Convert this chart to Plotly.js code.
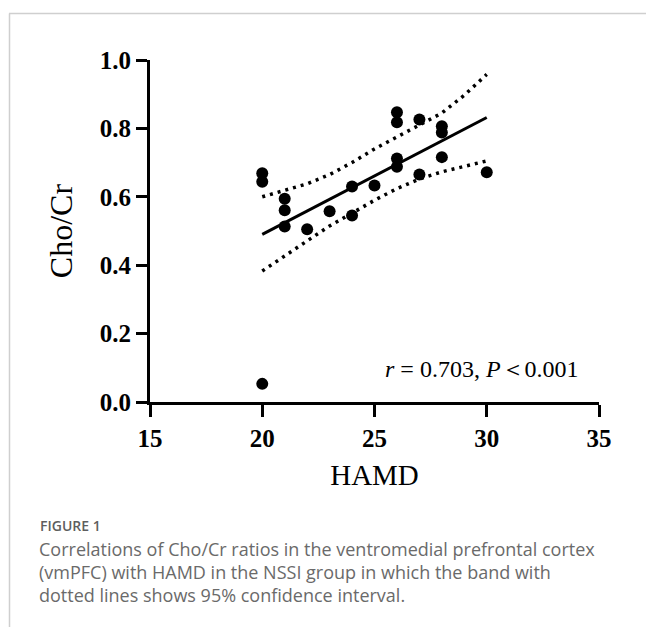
<!DOCTYPE html>
<html>
<head>
<meta charset="utf-8">
<script src="https://cdn.plot.ly/plotly-3.0.1.min.js"></script>
<style>
  html, body { margin: 0; padding: 0; background: #fff; }
  #chart { width: 646px; height: 627px; }
</style>
</head>
<body>
<div id="chart"></div>
<script>
// Observed data points (HAMD score vs Cho/Cr ratio)
const hamd = [20, 20, 20, 21, 21, 21, 22, 23, 24, 24, 25, 26, 26, 26, 26, 27, 27, 28, 28, 28, 30];
const choCr = [0.669, 0.644, 0.053, 0.594, 0.561, 0.513, 0.505, 0.558, 0.630, 0.545, 0.633, 0.847, 0.818, 0.712, 0.688, 0.826, 0.665, 0.806, 0.788, 0.716, 0.672];

// Regression line
const fitX = [20, 30];
const fitY = [0.490, 0.832];

// 95% confidence band
const ciX = [20, 21, 22, 23, 24, 25, 26, 27, 28, 29, 30];
const ciUpper = [0.600, 0.618, 0.638, 0.665, 0.700, 0.740, 0.775, 0.808, 0.845, 0.897, 0.958];
const ciLower = [0.383, 0.428, 0.472, 0.515, 0.552, 0.590, 0.624, 0.652, 0.673, 0.690, 0.705];

// Axis ticks
const xTicks = [15, 20, 25, 30, 35];
const yTicks = [0.0, 0.2, 0.4, 0.6, 0.8, 1.0];

const serif = 'Liberation Serif, Times New Roman, serif';
const sans = 'Open Sans, Lato, sans-serif';
const capColor = '#6a6a6a';

const traces = [
  { x: ciX, y: ciUpper, type: 'scatter', mode: 'lines',
    line: { color: '#000', width: 3.5, dash: '3px,5px' }, hoverinfo: 'skip', cliponaxis: false },
  { x: ciX, y: ciLower, type: 'scatter', mode: 'lines',
    line: { color: '#000', width: 3.5, dash: '3px,5px' }, hoverinfo: 'skip', cliponaxis: false },
  { x: fitX, y: fitY, type: 'scatter', mode: 'lines',
    line: { color: '#000', width: 3 }, hoverinfo: 'skip', cliponaxis: false },
  { x: hamd, y: choCr, type: 'scatter', mode: 'markers',
    marker: { color: '#000', size: 12 }, cliponaxis: false }
];

const W = 646, H = 627, L = 150, R = 47, T = 60, B = 225;
const pw = W - L - R, ph = H - T - B;
const px = v => (v - L) / pw;
const py = v => (H - B - v) / ph;

const layout = {
  width: W, height: H,
  margin: { l: L, r: R, t: T, b: B, pad: 0 },
  paper_bgcolor: '#fff', plot_bgcolor: '#fff',
  showlegend: false,
  xaxis: {
    range: [15, 35], tickvals: xTicks, ticktext: xTicks.map(String),
    showgrid: false, zeroline: false, showline: true, linecolor: '#000', linewidth: 3,
    ticks: 'outside', ticklen: 12, tickwidth: 3, tickcolor: '#000',
    tickfont: { family: serif, size: 25, color: '#000', weight: 'bold' },
    title: { text: 'HAMD', font: { family: serif, size: 29, color: '#000' }, standoff: 14 },
    fixedrange: true
  },
  yaxis: {
    range: [0, 1], tickvals: yTicks, ticktext: yTicks.map(v => v.toFixed(1)),
    showgrid: false, zeroline: false, showline: true, linecolor: '#000', linewidth: 3,
    ticks: 'outside', ticklen: 11, tickwidth: 3, tickcolor: '#000',
    tickfont: { family: serif, size: 25, color: '#000', weight: 'bold' },
    title: { text: 'Cho/Cr', font: { family: serif, size: 32, color: '#000' }, standoff: 18 },
    fixedrange: true
  },
  annotations: [
    { xref: 'paper', yref: 'paper', x: px(482), y: py(369), xanchor: 'center', yanchor: 'middle',
      text: '<i>r</i> = 0.703, <i>P</i>＜0.001', showarrow: false,
      font: { family: serif, size: 24, color: '#000' } },
    { xref: 'paper', yref: 'paper', x: px(38), y: py(525), xanchor: 'left', yanchor: 'middle',
      text: 'FIGURE 1', showarrow: false,
      font: { family: sans, size: 14, color: '#5e5e5e', weight: 600 } },
    { xref: 'paper', yref: 'paper', x: px(37), y: py(549), xanchor: 'left', yanchor: 'middle',
      text: 'Correlations of Cho/Cr ratios in the ventromedial prefrontal cortex', showarrow: false,
      font: { family: sans, size: 18, color: capColor } },
    { xref: 'paper', yref: 'paper', x: px(37), y: py(572), xanchor: 'left', yanchor: 'middle',
      text: '(vmPFC) with HAMD in the NSSI group in which the band with', showarrow: false,
      font: { family: sans, size: 18, color: capColor } },
    { xref: 'paper', yref: 'paper', x: px(37), y: py(595), xanchor: 'left', yanchor: 'middle',
      text: 'dotted lines shows 95% confidence interval.', showarrow: false,
      font: { family: sans, size: 18, color: capColor } }
  ],
  shapes: [
    { type: 'line', xref: 'paper', yref: 'paper', x0: px(9), x1: px(646), y0: py(13.5), y1: py(13.5),
      line: { color: '#cfcfcf', width: 1.5 } },
    { type: 'line', xref: 'paper', yref: 'paper', x0: px(9.5), x1: px(9.5), y0: py(13.5), y1: py(627),
      line: { color: '#cfcfcf', width: 1.5 } }
  ]
};

Plotly.newPlot('chart', traces, layout, { displayModeBar: false, staticPlot: true });
</script>
</body>
</html>
